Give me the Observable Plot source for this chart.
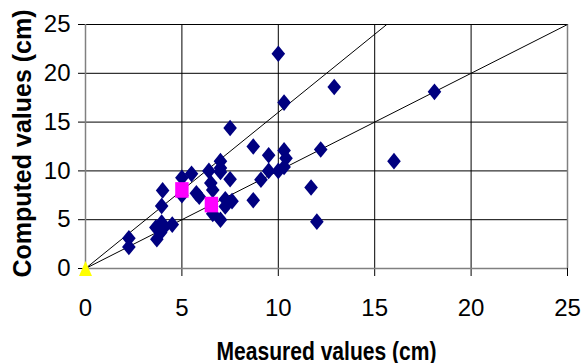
<!DOCTYPE html>
<html><head><meta charset="utf-8">
<script src="https://cdn.jsdelivr.net/npm/d3@7"></script>
<script src="https://cdn.jsdelivr.net/npm/@observablehq/plot@0.6"></script>
<style>html,body{margin:0;padding:0;background:#fff;}</style>
</head><body><div id="chart"></div>
<script>
// Measured vs computed values (cm)
const measured = [2.25, 2.25, 3.65, 3.7, 3.9, 3.95, 4.05, 4.5, 3.95, 4.0, 5.0, 5.0, 5.5, 5.75, 5.9, 6.4, 6.5, 6.6, 6.6, 7.0, 7.0, 7.0, 7.0, 7.25, 7.6, 7.25, 7.5, 7.5, 8.7, 8.7, 9.1, 9.5, 9.5, 10.0, 10.0, 10.3, 10.3, 10.4, 10.3, 11.7, 12.0, 12.2, 12.9, 16.0, 18.1];
const computed = [3.1, 2.2, 4.2, 3.0, 3.7, 4.7, 4.15, 4.5, 6.4, 8.0, 9.3, 7.5, 9.7, 7.7, 7.35, 10.0, 8.75, 8.05, 5.6, 11.0, 10.3, 9.9, 5.0, 7.1, 6.9, 6.35, 9.15, 14.4, 12.5, 7.0, 9.1, 11.6, 10.0, 22.0, 10.0, 17.0, 12.1, 11.3, 10.4, 8.3, 4.8, 12.2, 18.6, 11.0, 18.1];
const highlightX = [5.0, 6.53];
const highlightY = [8.05, 6.55];
const originX = [0];
const originY = [0];
// reference lines from origin: y = x and y = 1.6x
const refX1 = [0, 0];
const refY1 = [0, 0];
const refX2 = [25, 15.625];
const refY2 = [25, 25];
const xTicks = [0, 5, 10, 15, 20, 25];
const yTicks = [0, 5, 10, 15, 20, 25];
const xTitle = "Measured values (cm)";
const yTitle = "Computed values (cm)";

const points = measured.map((m, i) => ({x: m, y: computed[i]}));
const highlights = highlightX.map((m, i) => ({x: m, y: highlightY[i]}));
const origin = originX.map((m, i) => ({x: m, y: originY[i]}));
const refLines = refX1.map((v, i) => ({x1: v, y1: refY1[i], x2: refX2[i], y2: refY2[i]}));

const diamond = {draw(c) { c.moveTo(0, -8.3); c.lineTo(6.8, 0); c.lineTo(0, 8.3); c.lineTo(-6.8, 0); c.closePath(); }};
const square = {draw(c) { c.moveTo(-6.7, -7.8); c.lineTo(6.7, -7.8); c.lineTo(6.7, 7.8); c.lineTo(-6.7, 7.8); c.closePath(); }};
const triangle = {draw(c) { c.moveTo(0, -7.5); c.lineTo(6.5, 7.5); c.lineTo(-6.5, 7.5); c.closePath(); }};

const inner = xTicks.slice(1, -1);
const chart = Plot.plot({
  width: 585, height: 363,
  marginLeft: 85, marginRight: 18, marginTop: 24, marginBottom: 95,
  style: {fontFamily: "'Liberation Sans', Arial, sans-serif", fontSize: "24px", background: "white", color: "black"},
  x: {domain: [0, 25], ticks: xTicks, tickSize: 8, tickPadding: 22, label: null, tickFormat: d => String(d)},
  y: {domain: [0, 25], ticks: yTicks, tickSize: 7, tickPadding: 8, label: null, tickFormat: d => String(d)},
  marks: [
    Plot.ruleX(inner, {x: d => d, stroke: "#000", strokeWidth: 1}),
    Plot.ruleY(yTicks.slice(1), {y: d => d, stroke: "#000", strokeWidth: 1}),
    Plot.ruleX([xTicks[0], xTicks[xTicks.length - 1]], {x: d => d, stroke: "#808080", strokeWidth: 1.5}),
    Plot.ruleY([yTicks[0]], {y: d => d, stroke: "#808080", strokeWidth: 1.5}),
    Plot.link(refLines, {x1: "x1", y1: "y1", x2: "x2", y2: "y2", stroke: "#000", strokeWidth: 1}),
    Plot.dot(points, {x: "x", y: "y", symbol: diamond, r: 7, fill: "#000080", stroke: "none"}),
    Plot.dot(highlights, {x: "x", y: "y", symbol: square, r: 7, fill: "#FF00FF", stroke: "none"}),
    Plot.dot(origin, {x: "x", y: "y", symbol: triangle, r: 7, fill: "#FFFF00", stroke: "none"}),
    Plot.text([xTitle], {text: d => d, frameAnchor: "bottom", dy: 83, fontSize: 25, fontWeight: "bold", textAnchor: "middle", lineAnchor: "middle", fill: "#000"}),
    Plot.text([yTitle], {text: d => d, frameAnchor: "left", rotate: -90, dx: -63, dy: -3, fontSize: 25, fontWeight: "bold", textAnchor: "middle", lineAnchor: "middle", fill: "#000"})
  ]
});
document.getElementById("chart").appendChild(chart);
chart.querySelectorAll("text").forEach(t => {
  if (t.textContent === xTitle) {
    t.setAttribute("textLength", "220");
    t.setAttribute("lengthAdjust", "spacingAndGlyphs");
  }
});
</script>
</body></html>
